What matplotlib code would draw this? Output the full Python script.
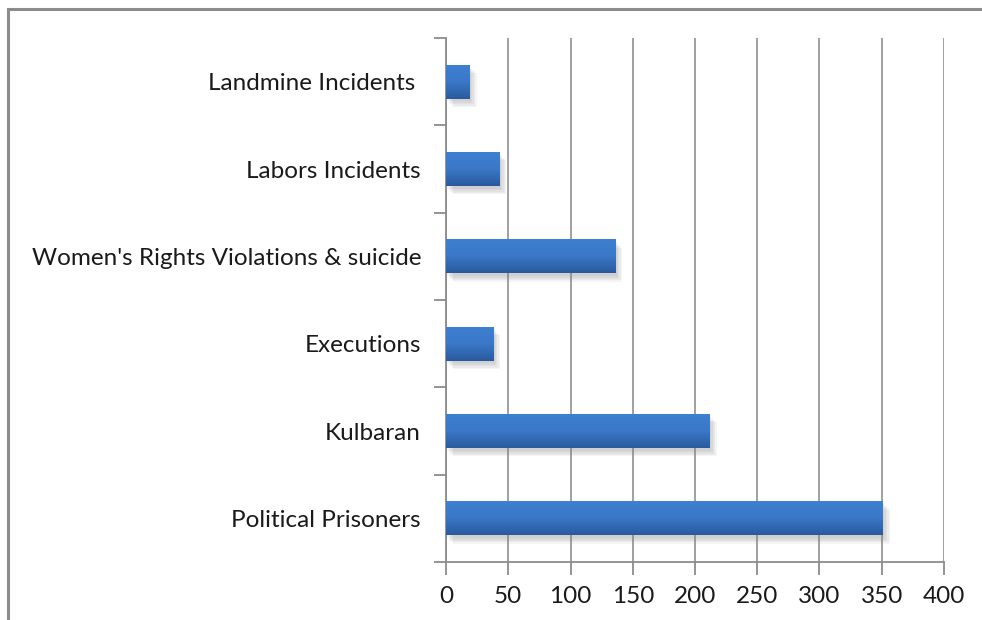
import numpy as np
import matplotlib
matplotlib.use("Agg")
import matplotlib.pyplot as plt
from matplotlib.patches import Rectangle
import matplotlib.patheffects as pe
from matplotlib.colors import LinearSegmentedColormap

categories = ["Political Prisoners", "Kulbaran", "Executions",
              "Women's Rights Violations & suicide", "Labors Incidents",
              "Landmine Incidents "]
values = [351, 212, 38, 136, 43, 19]
xticks = [0, 50, 100, 150, 200, 250, 300, 350, 400]

plt.rcParams['font.family'] = ['Lato', 'DejaVu Sans']

fig = plt.figure(figsize=(9.82, 6.2), dpi=100)
# outer frame
fig.patches.append(Rectangle((8/982, -0.1), 1.2, (620-9)/620 + 0.1,
                             transform=fig.transFigure, fill=False,
                             edgecolor='#8c8c8c', linewidth=2.2))
ax = fig.add_axes([446/982, 58/620, (944-446)/982, (562-38)/620])

y = np.arange(len(categories))
shadow = [pe.SimplePatchShadow(offset=(o, -o - 1), shadow_rgbFace='#888888', alpha=0.09)
          for o in (1, 2, 3, 4, 5)]
bars = ax.barh(y, values, height=0.39, color='#3570c0', zorder=3,
               path_effects=shadow + [pe.Normal()])

grad = np.linspace(0, 1, 256).reshape(-1, 1)
cmap = LinearSegmentedColormap.from_list('g', ['#2a5a9c', '#3a78c8', '#3f80d2'])
for b in bars:
    x0, y0 = b.get_x(), b.get_y()
    w, h = b.get_width(), b.get_height()
    im = ax.imshow(grad, extent=[x0, x0 + w, y0, y0 + h], origin='lower',
                   aspect='auto', cmap=cmap, zorder=4)
    im.set_clip_path(b)

ax.set_xlim(0, 400)
ax.set_ylim(-0.5, len(categories) - 0.5)
ax.set_xticks(xticks)
ax.set_xticklabels([str(t) for t in xticks])
ax.set_yticks(y)
ax.set_yticklabels(categories)
ax.set_yticks(np.arange(-0.5, len(categories)), minor=True)

ax.tick_params(axis='y', which='major', length=0, pad=18, labelsize=17.5, labelcolor='#1a1a1a')
ax.tick_params(axis='y', which='minor', length=9, width=1.3, color='#8c8c8c')
ax.tick_params(axis='x', length=9, width=1.3, color='#8c8c8c', pad=8, labelsize=17.5, labelcolor='#1a1a1a')

ax.grid(axis='x', color='#a0a0a0', linewidth=1.4, zorder=0)
ax.set_axisbelow(True)
for s in ['top', 'right']:
    ax.spines[s].set_visible(False)
for s in ['left', 'bottom']:
    ax.spines[s].set_color('#8c8c8c')
    ax.spines[s].set_linewidth(1.3)

fig.savefig('out.png', dpi=100)
